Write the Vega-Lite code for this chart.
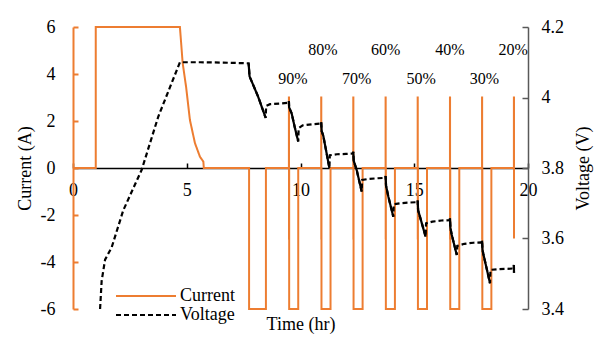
{
  "$schema": "https://vega.github.io/schema/vega-lite/v6.json",
  "width": 455,
  "height": 282,
  "autosize": "none",
  "padding": {"left": 73, "top": 27, "right": 72, "bottom": 44},
  "background": "white",
  "datasets": {
    "cur": [
      {"t": 0, "I": 0}, {"t": 1.0, "I": 0}, {"t": 1.0, "I": 6}, {"t": 4.70, "I": 6},
      {"t": 4.82, "I": 4.47}, {"t": 4.97, "I": 3.46}, {"t": 5.14, "I": 2.04}, {"t": 5.36, "I": 1.06},
      {"t": 5.58, "I": 0.48}, {"t": 5.73, "I": 0.27}, {"t": 5.75, "I": 0}, {"t": 7.74, "I": 0},
      {"t": 7.74, "I": -6}, {"t": 8.48, "I": -6}, {"t": 8.48, "I": 0},
      {"t": 9.49, "I": 0}, {"t": 9.49, "I": 3}, {"t": 9.494, "I": 3}, {"t": 9.494, "I": -3}, {"t": 9.498, "I": -3}, {"t": 9.498, "I": 0}, {"t": 9.502, "I": 0}, {"t": 9.502, "I": -6}, {"t": 9.90, "I": -6}, {"t": 9.90, "I": 0},
      {"t": 10.91, "I": 0}, {"t": 10.91, "I": 3}, {"t": 10.914, "I": 3}, {"t": 10.914, "I": -3}, {"t": 10.918, "I": -3}, {"t": 10.918, "I": 0}, {"t": 10.922, "I": 0}, {"t": 10.922, "I": -6}, {"t": 11.32, "I": -6}, {"t": 11.32, "I": 0},
      {"t": 12.32, "I": 0}, {"t": 12.32, "I": 3}, {"t": 12.324, "I": 3}, {"t": 12.324, "I": -3}, {"t": 12.328, "I": -3}, {"t": 12.328, "I": 0}, {"t": 12.332, "I": 0}, {"t": 12.332, "I": -6}, {"t": 12.73, "I": -6}, {"t": 12.73, "I": 0},
      {"t": 13.74, "I": 0}, {"t": 13.74, "I": 3}, {"t": 13.744, "I": 3}, {"t": 13.744, "I": -3}, {"t": 13.748, "I": -3}, {"t": 13.748, "I": 0}, {"t": 13.752, "I": 0}, {"t": 13.752, "I": -6}, {"t": 14.15, "I": -6}, {"t": 14.15, "I": 0},
      {"t": 15.15, "I": 0}, {"t": 15.15, "I": 3}, {"t": 15.154, "I": 3}, {"t": 15.154, "I": -3}, {"t": 15.158, "I": -3}, {"t": 15.158, "I": 0}, {"t": 15.162, "I": 0}, {"t": 15.162, "I": -6}, {"t": 15.56, "I": -6}, {"t": 15.56, "I": 0},
      {"t": 16.57, "I": 0}, {"t": 16.57, "I": 3}, {"t": 16.574, "I": 3}, {"t": 16.574, "I": -3}, {"t": 16.578, "I": -3}, {"t": 16.578, "I": 0}, {"t": 16.582, "I": 0}, {"t": 16.582, "I": -6}, {"t": 16.98, "I": -6}, {"t": 16.98, "I": 0},
      {"t": 17.98, "I": 0}, {"t": 17.98, "I": 3}, {"t": 17.984, "I": 3}, {"t": 17.984, "I": -3}, {"t": 17.988, "I": -3}, {"t": 17.988, "I": 0}, {"t": 17.992, "I": 0}, {"t": 17.992, "I": -6}, {"t": 18.39, "I": -6}, {"t": 18.39, "I": 0},
      {"t": 19.38, "I": 0}, {"t": 19.38, "I": 3}, {"t": 19.384, "I": 3}, {"t": 19.384, "I": -3}
    ],
    "volt": [
      {"t": 1.19, "V": 3.40}, {"t": 1.26, "V": 3.48}, {"t": 1.41, "V": 3.54}, {"t": 1.70, "V": 3.575},
      {"t": 2.21, "V": 3.68}, {"t": 3.02, "V": 3.795}, {"t": 3.75, "V": 3.946}, {"t": 4.70, "V": 4.10},
      {"t": 5.6, "V": 4.10}, {"t": 6.6, "V": 4.099},
      {"t": 7.72, "V": 4.097, "seg": 1}, {"t": 7.76, "V": 4.06, "seg": 1}, {"t": 8.14, "V": 4.002, "seg": 1}, {"t": 8.47, "V": 3.942, "seg": 1},
      {"t": 8.49, "V": 3.976}, {"t": 8.66, "V": 3.981}, {"t": 9.1, "V": 3.983}, {"t": 9.46, "V": 3.985},
      {"t": 9.49, "V": 3.99, "seg": 2}, {"t": 9.50, "V": 3.972, "seg": 2}, {"t": 9.61, "V": 3.955, "seg": 2}, {"t": 9.75, "V": 3.915, "seg": 2}, {"t": 9.90, "V": 3.875, "seg": 2},
      {"t": 9.92, "V": 3.913}, {"t": 10.1, "V": 3.921}, {"t": 10.5, "V": 3.924}, {"t": 10.89, "V": 3.926},
      {"t": 10.91, "V": 3.93, "seg": 3}, {"t": 10.93, "V": 3.905, "seg": 3}, {"t": 11.0, "V": 3.892, "seg": 3}, {"t": 11.27, "V": 3.80, "seg": 3},
      {"t": 11.29, "V": 3.836}, {"t": 11.6, "V": 3.839}, {"t": 12.0, "V": 3.84}, {"t": 12.30, "V": 3.841},
      {"t": 12.32, "V": 3.846, "seg": 4}, {"t": 12.34, "V": 3.82, "seg": 4}, {"t": 12.47, "V": 3.794, "seg": 4}, {"t": 12.69, "V": 3.733, "seg": 4},
      {"t": 12.71, "V": 3.766}, {"t": 13.0, "V": 3.769}, {"t": 13.4, "V": 3.771}, {"t": 13.72, "V": 3.772},
      {"t": 13.74, "V": 3.777, "seg": 5}, {"t": 13.76, "V": 3.75, "seg": 5}, {"t": 13.86, "V": 3.719, "seg": 5}, {"t": 14.08, "V": 3.662, "seg": 5},
      {"t": 14.10, "V": 3.697}, {"t": 14.4, "V": 3.70}, {"t": 14.8, "V": 3.702}, {"t": 15.13, "V": 3.703},
      {"t": 15.15, "V": 3.708, "seg": 6}, {"t": 15.17, "V": 3.68, "seg": 6}, {"t": 15.25, "V": 3.662, "seg": 6}, {"t": 15.50, "V": 3.605, "seg": 6},
      {"t": 15.52, "V": 3.643}, {"t": 15.8, "V": 3.648}, {"t": 16.2, "V": 3.651}, {"t": 16.55, "V": 3.652},
      {"t": 16.57, "V": 3.657, "seg": 7}, {"t": 16.59, "V": 3.63, "seg": 7}, {"t": 16.65, "V": 3.61, "seg": 7}, {"t": 16.87, "V": 3.553, "seg": 7},
      {"t": 16.89, "V": 3.579}, {"t": 17.2, "V": 3.585}, {"t": 17.6, "V": 3.588}, {"t": 17.96, "V": 3.589},
      {"t": 17.98, "V": 3.594, "seg": 8}, {"t": 18.0, "V": 3.568, "seg": 8}, {"t": 18.03, "V": 3.558, "seg": 8}, {"t": 18.33, "V": 3.473, "seg": 8},
      {"t": 18.35, "V": 3.511}, {"t": 18.7, "V": 3.513}, {"t": 19.1, "V": 3.514}, {"t": 19.36, "V": 3.515},
      {"t": 19.38, "V": 3.525, "seg": 9}, {"t": 19.385, "V": 3.503, "seg": 9}
    ],
    "labs": [
      {"t": 9.67, "I": 3.79, "label": "90%"}, {"t": 10.99, "I": 5.02, "label": "80%"},
      {"t": 12.47, "I": 3.79, "label": "70%"}, {"t": 13.74, "I": 5.02, "label": "60%"},
      {"t": 15.30, "I": 3.79, "label": "50%"}, {"t": 16.57, "I": 5.02, "label": "40%"},
      {"t": 18.08, "I": 3.79, "label": "30%"}, {"t": 19.35, "I": 5.02, "label": "20%"}
    ]
  },
  "layer": [
    {
      "layer": [
        {
          "data": {"name": "cur"},
          "mark": {"type": "line", "strokeWidth": 2, "interpolate": "linear"},
          "encoding": {
            "x": {"field": "t", "type": "quantitative", "sort": null, "scale": {"domain": [0, 20]}, "title": "Time (hr)",
                  "axis": {"values": [0, 5, 10, 15, 20], "offset": -141, "tickSize": -5, "labelPadding": 18, "titlePadding": 116, "labelFlush": false, "labelOverlap": false, "domainColor": "black", "tickColor": "black", "domainWidth": 1.5, "tickWidth": 1.5}},
            "y": {"field": "I", "type": "quantitative", "scale": {"domain": [-6, 6]}, "title": "Current (A)",
                  "axis": {"orient": "left", "values": [-6, -4, -2, 0, 2, 4, 6], "tickSize": -5, "labelPadding": 23, "titlePadding": 6, "domainColor": "#ED7D31", "tickColor": "#ED7D31", "domainWidth": 2, "tickWidth": 2, "labelExpr": "replace(datum.label, '−', '-')"}},
            "color": {"datum": "Current", "type": "nominal", "scale": {"domain": ["Current", "Voltage"], "range": ["#ED7D31", "black"]},
                      "legend": {"title": null, "orient": "none", "legendX": 64, "legendY": 260, "symbolType": "M-5,0H5", "symbolSize": 144, "symbolStrokeWidth": 2, "labelFont": "Liberation Serif", "labelFontSize": 18, "labelColor": "black", "labelOffset": 25, "rowPadding": 1}},
            "strokeDash": {"datum": "Current", "type": "nominal", "scale": {"domain": ["Current", "Voltage"], "range": [[1, 0], [5, 3]]}, "legend": {"title": null}}
          }
        },
        {
          "data": {"name": "labs"},
          "mark": {"type": "text", "font": "Liberation Serif", "fontSize": 16, "color": "black", "align": "center", "baseline": "middle"},
          "encoding": {
            "x": {"field": "t", "type": "quantitative", "scale": {"domain": [0, 20]}, "title": "Time (hr)",
                  "axis": {"values": [0, 5, 10, 15, 20], "offset": -141, "tickSize": -5, "labelPadding": 18, "titlePadding": 116, "labelFlush": false, "labelOverlap": false, "domainColor": "black", "tickColor": "black", "domainWidth": 1.5, "tickWidth": 1.5}},
            "y": {"field": "I", "type": "quantitative", "scale": {"domain": [-6, 6]}, "title": "Current (A)",
                  "axis": {"orient": "left", "values": [-6, -4, -2, 0, 2, 4, 6], "tickSize": -5, "labelPadding": 23, "titlePadding": 6, "domainColor": "#ED7D31", "tickColor": "#ED7D31", "domainWidth": 2, "tickWidth": 2, "labelExpr": "replace(datum.label, '−', '-')"}},
            "text": {"field": "label"}
          }
        }
      ]
    },
    {
      "data": {"name": "volt"},
      "layer": [
        {
          "mark": {"type": "line", "strokeWidth": 2.2},
          "encoding": {
            "x": {"field": "t", "type": "quantitative", "scale": {"domain": [0, 20]}, "title": "Time (hr)",
                  "axis": {"values": [0, 5, 10, 15, 20], "offset": -141, "tickSize": -5, "labelPadding": 18, "titlePadding": 116, "labelFlush": false, "labelOverlap": false, "domainColor": "black", "tickColor": "black", "domainWidth": 1.5, "tickWidth": 1.5}},
            "y": {"field": "V", "type": "quantitative", "scale": {"domain": [3.4, 4.2]}, "title": "Voltage (V)",
                  "axis": {"orient": "right", "values": [3.4, 3.6, 3.8, 4.0, 4.2], "format": ".1~f", "tickSize": -6, "labelPadding": 19, "titlePadding": 29, "titleAngle": -90, "domainColor": "#595959", "tickColor": "#595959", "domainWidth": 1.5, "tickWidth": 1.5}},
            "color": {"datum": "Voltage", "type": "nominal"},
            "strokeDash": {"datum": "Voltage", "type": "nominal"}
          }
        },
        {
          "transform": [{"filter": "datum.seg > 0"}],
          "mark": {"type": "line", "strokeWidth": 2.2, "color": "black"},
          "encoding": {
            "x": {"field": "t", "type": "quantitative", "scale": {"domain": [0, 20]}, "title": "Time (hr)",
                  "axis": {"values": [0, 5, 10, 15, 20], "offset": -141, "tickSize": -5, "labelPadding": 18, "titlePadding": 116, "labelFlush": false, "labelOverlap": false, "domainColor": "black", "tickColor": "black", "domainWidth": 1.5, "tickWidth": 1.5}},
            "y": {"field": "V", "type": "quantitative", "scale": {"domain": [3.4, 4.2]}, "title": "Voltage (V)",
                  "axis": {"orient": "right", "values": [3.4, 3.6, 3.8, 4.0, 4.2], "format": ".1~f", "tickSize": -6, "labelPadding": 19, "titlePadding": 29, "titleAngle": -90, "domainColor": "#595959", "tickColor": "#595959", "domainWidth": 1.5, "tickWidth": 1.5}},
            "detail": {"field": "seg", "type": "nominal"}
          }
        }
      ]
    }
  ],
  "resolve": {"scale": {"y": "independent"}},
  "config": {
    "font": "Liberation Serif",
    "view": {"stroke": null},
    "axis": {"grid": false, "labelFont": "Liberation Serif", "labelFontSize": 18, "labelColor": "black", "titleFont": "Liberation Serif", "titleFontSize": 18, "titleFontWeight": "normal", "titleColor": "black"},
    "legend": {"labelFont": "Liberation Serif", "labelFontSize": 18}
  }
}
